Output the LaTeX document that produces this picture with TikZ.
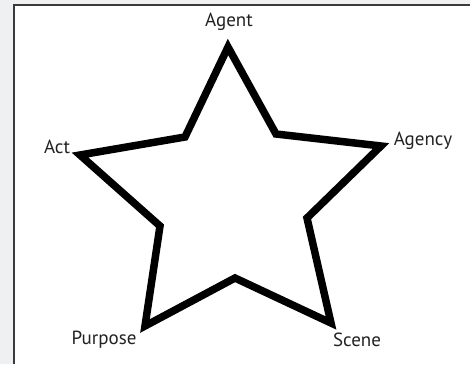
\documentclass[tikz,border=0pt]{standalone}
\usepackage{fontspec}
\setmainfont{PT Sans}
\definecolor{bggray}{HTML}{EFF0F2}
\definecolor{framegray}{HTML}{3A3A3A}
\definecolor{labgray}{HTML}{222222}
\begin{document}
\begin{tikzpicture}[x=1pt,y=-1pt,lab/.style={font=\fontsize{19}{21}\selectfont,text=labgray,inner sep=0pt}]
\useasboundingbox (0,0) rectangle (470,364);
\fill[bggray] (0,0) rectangle (470,364);
\fill[white] (14,5) rectangle (470,364);
\draw[framegray,line width=1.5] (14,364)--(14,5)--(470,5);
% star points
\coordinate (agent) at (228,47);
\coordinate (i1) at (276,134);
\coordinate (agency) at (381,146);
\coordinate (i2) at (307,218);
\coordinate (scene) at (331,323);
\coordinate (i3) at (235,278);
\coordinate (purpose) at (145,326);
\coordinate (i4) at (160,226);
\coordinate (act) at (80,155);
\coordinate (i5) at (185,137);
\draw[line width=7.5,line join=miter,miter limit=10] (agent)--(i1)--(agency)--(i2)--(scene)--(i3)--(purpose)--(i4)--(act)--(i5)--cycle;
% labels
\node[lab] (agentlab) at (229,22) {Agent};
\node[lab] (actlab) at (57,147) {Act};
\node[lab] (agencylab) at (423,141) {Agency};
\node[lab] (purposelab) at (104,340) {Purpose};
\node[lab] (scenelab) at (357,340) {Scene};
\end{tikzpicture}
\end{document}
